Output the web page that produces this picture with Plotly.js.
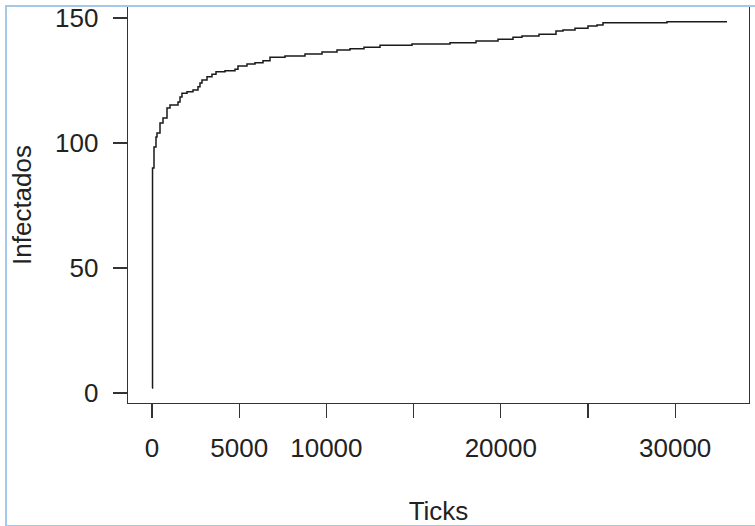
<!DOCTYPE html>
<html>
<head>
<meta charset="utf-8">
<script src="https://cdn.plot.ly/plotly-3.0.1.min.js"></script>
<style>
  html, body { margin: 0; padding: 0; background: #ffffff; }
  #wrap { position: relative; width: 755px; height: 526px; overflow: hidden; }
  #chart { position: absolute; left: 0; top: 0; width: 755px; height: 526px; }
  #frame { position: absolute; left: 5px; top: 5px; width: 760px; height: 518px;
           border: 2px solid #a7c7ea; border-right: none; pointer-events: none; }
</style>
</head>
<body>
<div id="wrap">
  <div id="chart"></div>
  <div id="frame"></div>
</div>
<script>
// Simulation time (ticks) at which the infected count changes
const ticks = [0, 30, 115, 229, 287, 459, 631, 860, 1032, 1491, 1606, 1720, 2007, 2351, 2638, 2752,
  2867, 3154, 3440, 3670, 4186, 4759, 4931, 5447, 5906, 6365, 6766, 7626, 8773, 9748, 10608,
  11353, 12156, 13074, 14908, 17087, 18578, 19840, 20700, 21216, 22191, 23165, 23567, 24255,
  25000, 25516, 25860, 29530, 32970];
// Number of infected from that tick onwards
const infected = [2, 90, 98.4, 102.4, 104, 108, 110, 114, 115.2, 116.4, 118.4, 119.9, 120.5, 121.2, 122.5, 124,
  125.2, 126.5, 127.5, 128.5, 128.9, 129.5, 130.8, 131.6, 132.1, 132.9, 134.3, 134.8, 135.6, 136.4, 137.2,
  137.7, 138.3, 139.1, 139.6, 140.1, 140.8, 141.5, 142.3, 142.8, 143.5, 144.8, 145.2, 145.9,
  146.8, 147.2, 148.1, 148.5, 148.5];

const xTickVals = [0, 5000, 10000, 15000, 20000, 25000, 30000];
const xTickText = ['0', '5000', '10000', '', '20000', '', '30000'];
const yTickVals = [0, 50, 100, 150];
const yTickText = ['0', '50', '100', '150'];

const FONT = 'Liberation Sans, Arial, sans-serif';
const INK = '#333333';
const TXT = '#222222';
const FS = 26;

const trace = {
  x: ticks,
  y: infected,
  type: 'scatter',
  mode: 'lines',
  line: { shape: 'hv', color: '#1a1a1a', width: 1.5 },
  hoverinfo: 'x+y'
};

const layout = {
  width: 755,
  height: 526,
  margin: { l: 128, r: 6, t: 7, b: 123, pad: 0 },
  paper_bgcolor: '#ffffff',
  plot_bgcolor: '#ffffff',
  showlegend: false,
  font: { family: FONT, size: FS, color: TXT },
  xaxis: {
    range: [-1376, 34232],
    tickmode: 'array',
    tickvals: xTickVals,
    ticktext: xTickText,
    ticks: 'outside',
    ticklen: 14,
    tickwidth: 1.3,
    tickcolor: INK,
    ticklabelstandoff: 7,
    showgrid: false,
    zeroline: false,
    showline: true,
    mirror: true,
    linecolor: INK,
    linewidth: 1.3,
    tickfont: { family: FONT, size: FS, color: TXT },
    title: { text: 'Ticks', font: { family: FONT, size: FS, color: TXT }, standoff: 42 },
    automargin: false
  },
  yaxis: {
    range: [-4, 154.4],
    tickmode: 'array',
    tickvals: yTickVals,
    ticktext: yTickText,
    ticks: 'outside',
    ticklen: 14,
    tickwidth: 1.3,
    tickcolor: INK,
    ticklabelstandoff: 9,
    showgrid: false,
    zeroline: false,
    showline: true,
    mirror: true,
    linecolor: INK,
    linewidth: 1.3,
    tickfont: { family: FONT, size: FS, color: TXT },
    title: { text: 'Infectados', font: { family: FONT, size: FS, color: TXT }, standoff: 16 },
    automargin: false
  }
};

Plotly.newPlot('chart', [trace], layout, { displayModeBar: false, staticPlot: true });
</script>
</body>
</html>
